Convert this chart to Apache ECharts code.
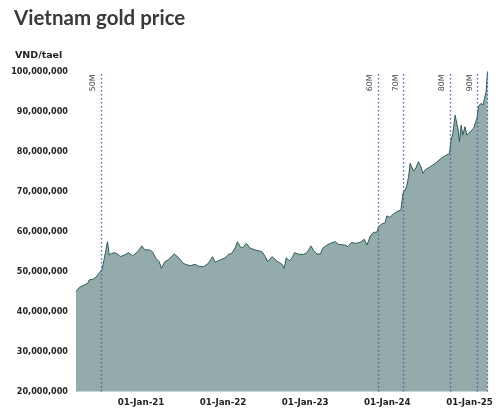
<!DOCTYPE html>
<html>
<head>
<meta charset="utf-8">
<script src="https://cdn.jsdelivr.net/npm/echarts@6/dist/echarts.min.js"></script>
<style>
html,body{margin:0;padding:0;background:#fff;}
#c{width:500px;height:413px;}
</style>
</head>
<body>
<div id="c"></div>
<script>
const dates = [
'2020-03-18','2020-04-02','2020-04-24','2020-05-09','2020-05-16','2020-05-31','2020-06-15','2020-06-30','2020-07-12','2020-07-22',
'2020-07-29','2020-08-05','2020-08-13','2020-08-23','2020-09-04','2020-09-19','2020-10-01','2020-10-19','2020-11-07','2020-11-25',
'2020-12-17','2021-01-05','2021-01-18','2021-02-07','2021-02-21','2021-03-08','2021-03-23','2021-04-02','2021-04-17','2021-05-02',
'2021-05-29','2021-06-20','2021-07-05','2021-07-17','2021-08-08','2021-08-30','2021-09-14','2021-10-06','2021-10-28','2021-11-15',
'2021-11-27','2021-12-19','2022-01-11','2022-01-25','2022-02-09','2022-02-24','2022-03-06','2022-03-18','2022-03-30','2022-04-14',
'2022-05-02','2022-05-24','2022-06-23','2022-07-08','2022-07-18','2022-08-07','2022-08-29','2022-09-20','2022-09-30','2022-10-09',
'2022-10-22','2022-11-03','2022-11-15','2022-12-03','2022-12-25','2023-01-09','2023-01-27','2023-02-08','2023-02-23','2023-03-10',
'2023-03-20','2023-04-08','2023-04-30','2023-05-15','2023-05-29','2023-06-28','2023-07-10','2023-07-25','2023-08-19','2023-09-07',
'2023-09-21','2023-10-03','2023-10-18','2023-11-01','2023-11-16','2023-11-23','2023-12-08','2023-12-23','2023-12-30','2024-01-13',
'2024-01-29','2024-02-13','2024-03-02','2024-03-11','2024-03-21','2024-03-29','2024-04-05','2024-04-12','2024-04-20','2024-04-27',
'2024-05-08','2024-05-19','2024-05-30','2024-06-08','2024-06-18','2024-07-10','2024-08-02','2024-08-24','2024-09-15','2024-10-04',
'2024-10-10','2024-10-19','2024-10-29','2024-11-06','2024-11-13','2024-11-17','2024-11-25','2024-12-02','2024-12-12','2024-12-20',
'2025-01-04','2025-01-19','2025-02-03','2025-02-10','2025-02-21','2025-03-02','2025-03-09','2025-03-16','2025-03-22'
];
const pricesM = [
44.95,46.05,46.6,47.05,47.9,48.05,48.55,49.7,50.55,53.3,
55.4,57.45,54.1,54.55,54.7,54.4,53.7,54.1,54.7,53.9,
54.95,56.4,55.4,55.4,54.95,53.3,52.45,50.8,52.45,52.9,
54.4,53.3,52.2,51.8,51.45,51.8,51.3,51.2,52.05,53.7,
52.3,52.9,53.45,54.3,54.55,55.95,57.45,56.2,55.95,57.05,
55.8,55.4,54.95,53.7,52.45,53.7,52.6,51.8,50.8,53.45,
52.7,53.3,54.7,54.3,54.3,54.7,56.4,55.2,54.4,54.4,
55.8,56.6,57.2,57.45,56.8,56.6,56.2,57.2,57.05,57.45,
58.05,56.6,58.9,59.8,59.8,61.2,61.9,62.2,63.9,63.55,
64.4,64.95,65.4,69.55,70.4,71.6,73.7,77.05,76.6,75.1,
75.95,77.45,76.2,74.55,75.4,76.2,77.05,78.1,78.95,79.55,
82.6,84.55,89.1,89.3,84.95,82.45,86.6,84.1,86.2,84.1,
84.95,85.8,88.3,91.2,92.05,91.6,93.3,94.95,100
];
const thresholdDates = ['2020-07-09','2023-11-22','2024-03-14','2024-10-08','2025-02-06','2025-03-21'];
const thresholdLabels = ['50M','60M','70M','80M','90M',''];
const yTicks = [20000000,30000000,40000000,50000000,60000000,70000000,80000000,90000000,100000000];
const xStart = '2020-03-18';
const xEnd = '2025-03-22';

const seriesData = dates.map((d,i)=>[d, Math.round(pricesM[i]*1000000)]);
const months = ['Jan','Feb','Mar','Apr','May','Jun','Jul','Aug','Sep','Oct','Nov','Dec'];
function fmtNum(v){return String(v).replace(/\B(?=(\d{3})+(?!\d))/g, ',');}

const chart = echarts.init(document.getElementById('c'));
chart.setOption({
  animation:false,
  backgroundColor:'#fff',
  title:[
    {text:'Vietnam gold price', left:9, top:3, textStyle:{fontFamily:'Lato', fontWeight:'bold', fontSize:20.5, color:'#3a3a3a'}},
    {text:'VND/tael', left:10, top:46, textStyle:{fontFamily:'DejaVu Sans', fontWeight:'bold', fontSize:9.5, color:'#222'}}
  ],
  grid:{left:76, right:12.5, top:71.5, bottom:21.5},
  xAxis:{
    type:'time',
    min:xStart, max:xEnd,
    minInterval: 360*86400000,
    axisLine:{show:false}, axisTick:{show:false}, splitLine:{show:false},
    axisLabel:{
      margin:7,
      fontFamily:'DejaVu Sans', fontWeight:'bold', fontSize:8.7, color:'#222',
      hideOverlap:false,
      formatter:function(v){
        const d=new Date(v);
        if(d.getMonth()!==0||d.getDate()!==1) return '';
        return '01-'+months[0]+'-'+String(d.getFullYear()).slice(2);
      }
    }
  },
  yAxis:{
    type:'value', min:yTicks[0], max:yTicks[yTicks.length-1], interval:10000000,
    axisLine:{show:false}, axisTick:{show:false}, splitLine:{show:false},
    axisLabel:{margin:8, fontFamily:'DejaVu Sans', fontWeight:'bold', fontSize:8.1, color:'#222', formatter:fmtNum}
  },
  series:[{
    type:'line',
    data:seriesData,
    showSymbol:false,
    symbol:'none',
    clip:true,
    lineStyle:{color:'#2f5d58', width:1},
    areaStyle:{color:'#93abab', opacity:1},
    markLine:{
      silent:true,
      symbol:'none',
      lineStyle:{color:'#4a5fae', type:[1.5,2.5], width:1.3},
      label:{position:'insideEndTop', fontFamily:'DejaVu Sans', fontSize:7.8, color:'#444', distance:[3,4]},
      data: thresholdDates.map((d,i)=>({xAxis:d, label:{formatter:thresholdLabels[i], show:thresholdLabels[i]!==''}}))
    }
  }]
});
</script>
</body>
</html>
